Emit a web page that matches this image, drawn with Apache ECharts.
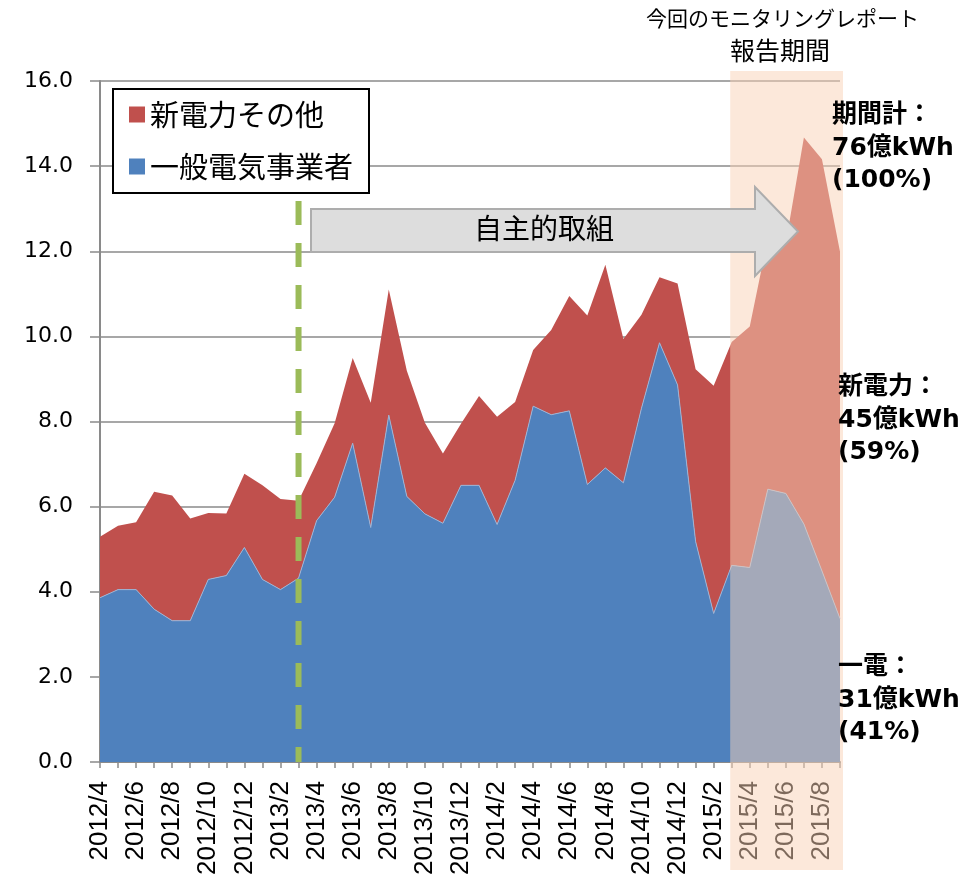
<!DOCTYPE html>
<html><head><meta charset="utf-8">
<script src="https://cdn.jsdelivr.net/npm/echarts@6/dist/echarts.min.js"></script>
<style>html,body{margin:0;padding:0;background:#fff}#c{width:968px;height:883px}</style>
</head><body><div id="c"></div>
<script>
const months = ['2012/4','2012/5','2012/6','2012/7','2012/8','2012/9','2012/10','2012/11','2012/12',
  '2013/1','2013/2','2013/3','2013/4','2013/5','2013/6','2013/7','2013/8','2013/9','2013/10','2013/11','2013/12',
  '2014/1','2014/2','2014/3','2014/4','2014/5','2014/6','2014/7','2014/8','2014/9','2014/10','2014/11','2014/12',
  '2015/1','2015/2','2015/3','2015/4','2015/5','2015/6','2015/7','2015/8','2015/9'];
// 一般電気事業者 (bottom, blue)
const ippan = [3.86,4.05,4.05,3.59,3.32,3.32,4.29,4.38,5.04,4.29,4.05,4.32,5.67,6.22,7.49,5.51,8.15,6.24,5.83,5.61,6.50,
  6.50,5.58,6.62,8.36,8.16,8.25,6.52,6.91,6.56,8.31,9.85,8.86,5.18,3.49,4.62,4.57,6.41,6.31,5.59,4.49,3.37];
// 新電力その他 (stacked on top, red)
const shin = [1.43,1.50,1.58,2.76,2.94,2.40,1.56,1.46,1.73,2.21,2.13,1.82,1.35,1.74,2.00,2.93,2.95,2.95,2.14,1.64,1.45,
  2.10,2.53,1.84,1.32,1.99,2.70,3.97,4.77,3.38,2.20,1.54,2.38,4.05,5.35,5.25,5.66,5.89,5.89,9.08,9.67,8.62];
const yMin = 0, yMax = 16, yStep = 2;
const startMonth = '2013/3';     // 自主的取組 開始
const reportStart = '2015/3';    // 報告期間 shading start

const chart = echarts.init(document.getElementById('c'));
const jp = '"Noto Sans CJK JP", sans-serif';
const opt = {
  animation: false,
  backgroundColor: '#fff',
  grid: {left: 100, right: 128, top: 81, bottom: 121},
  legend: {
    data: ['新電力その他', '一般電気事業者'],
    orient: 'vertical', left: 113, top: 89,
    backgroundColor: '#fff', borderColor: '#000', borderWidth: 2,
    padding: [11, 16, 12, 16], itemGap: 23,
    icon: 'rect', itemWidth: 16, itemHeight: 16,
    textStyle: {fontSize: 29, fontFamily: jp, color: '#000'},
    z: 20
  },
  xAxis: {
    type: 'category', data: months, boundaryGap: false,
    axisLine: {lineStyle: {color: '#8a8a8a', width: 2}},
    axisTick: {show: true, interval: 0, length: 6, lineStyle: {color: '#8a8a8a', width: 1.5}},
    axisLabel: {interval: 1, rotate: 90, margin: 19, fontSize: 26, color: '#000',
      fontFamily: '"Liberation Sans", Arial, sans-serif'},
    splitLine: {show: false}
  },
  yAxis: {
    type: 'value', min: yMin, max: yMax, interval: yStep,
    axisLine: {show: true, lineStyle: {color: '#8a8a8a', width: 2}},
    axisTick: {show: true, length: 10, lineStyle: {color: '#8a8a8a', width: 1.5}},
    axisLabel: {margin: 27, fontSize: 22, color: '#000', fontFamily: '"DejaVu Sans", Verdana, sans-serif',
      formatter: v => v.toFixed(1)},
    splitLine: {show: true, lineStyle: {color: '#8a8a8a', width: 1.5}}
  },
  series: [
    {name: '一般電気事業者', type: 'line', stack: 'total', data: ippan, showSymbol: false,
     lineStyle: {width: 1, color: '#9fb3d3'}, itemStyle: {color: '#4F81BD'},
     areaStyle: {color: '#4F81BD', opacity: 1}, z: 3},
    {name: '新電力その他', type: 'line', stack: 'total', data: shin, showSymbol: false,
     lineStyle: {width: 0}, itemStyle: {color: '#C0504D'},
     areaStyle: {color: '#C0504D', opacity: 1}, z: 2}
  ]
};
chart.setOption(opt);

const x0 = chart.convertToPixel({xAxisIndex: 0}, startMonth);
const xr = chart.convertToPixel({xAxisIndex: 0}, reportStart);
const yBottom = chart.convertToPixel({yAxisIndex: 0}, 0);
const xEnd = chart.convertToPixel({xAxisIndex: 0}, months[months.length - 1]);

const bold = '"DejaVu Sans", "Noto Sans CJK JP", sans-serif';
function note(x, y, lines) {
  return lines.map((t, i) => ({
    type: 'text', left: x, top: y + i * 32.5, z: 200,
    style: {text: t, font: 'bold 25px ' + bold, fill: '#000'}
  }));
}
chart.setOption({
  graphic: [
    {type: 'line', z: 50, shape: {x1: x0, y1: 201, x2: x0, y2: yBottom},
     style: {stroke: '#9BBB59', lineWidth: 6, lineDash: [24, 18]}},
    {type: 'rect', z: 100, shape: {x: xr - 1.5, y: 71, width: xEnd + 3 - xr + 1.5, height: 799},
     style: {fill: 'rgba(249,209,182,0.5)'}},
    {type: 'polygon', z: 110, shape: {points: [[311, 209], [755, 209], [755, 187], [798, 231.5], [755, 276], [755, 252], [311, 252]]},
     style: {fill: '#DDDDDD', stroke: '#ADADAD', lineWidth: 2}},
    {type: 'text', z: 120, left: 474, top: 214, style: {text: '自主的取組', font: '28px ' + jp, fill: '#000'}},
    {type: 'text', z: 120, left: 646, top: 8, style: {text: '今回のモニタリングレポート', font: '21px ' + jp, fill: '#000'}},
    {type: 'text', z: 120, left: 730, top: 38, style: {text: '報告期間', font: '25px ' + jp, fill: '#000'}},
    ...note(832, 103, ['期間計：', '76億kWh', '(100%)']),
    ...note(838, 375, ['新電力：', '45億kWh', '(59%)']),
    ...note(838, 655, ['一電：', '31億kWh', '(41%)'])
  ]
});
</script></body></html>
